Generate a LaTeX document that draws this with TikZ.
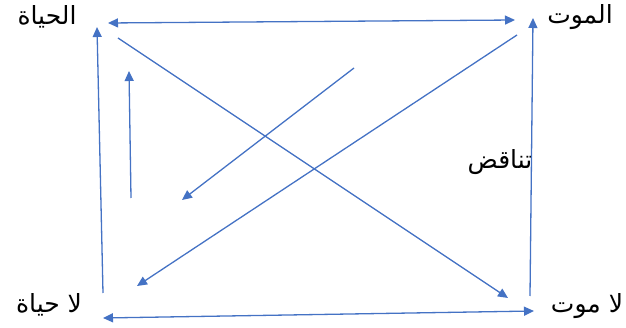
\documentclass[tikz,border=0pt]{standalone}
\usepackage{fontspec}
\newfontfamily\arabicfont[Script=Arabic]{DejaVu Sans}
\TeXXeTstate=1
\usetikzlibrary{arrows.meta}
\definecolor{linkblue}{RGB}{68,114,196}
\tikzset{>={Triangle[length=10pt,width=9pt]},link/.style={linkblue,line width=1.3pt},word/.style={font=\arabicfont\fontsize{25}{30}\selectfont,inner sep=0pt}}
\newcommand{\rtl}[1]{\beginR #1\endR}
\begin{document}
\begin{tikzpicture}[x=1pt,y=-1pt]
\useasboundingbox (0,0) rectangle (626,328);
% the four terms
\node[word] (hayat) at (47,17){\rtl{الحياة}};\node[word] (mawt) at (580,17){\rtl{الموت}};
\node[word] (lahayat) at (49,305){\rtl{لا حياة}};\node[word] (lamawt) at (587,306){\rtl{لا موت}};
\node[word] (tanaqud) at (500,162){\rtl{تناقض}};
% ends of the arrows
\coordinate (tA) at (108,23);\coordinate (tB) at (515,20);
\coordinate (bA) at (103,318);\coordinate (bB) at (534,311);
\coordinate (lA) at (103,293);\coordinate (lB) at (97,27);
\coordinate (rA) at (530,296);\coordinate (rB) at (533,18);
\coordinate (dA) at (118,38);\coordinate (dB) at (508,298);
\coordinate (eA) at (517,35);\coordinate (eB) at (137,286);
\coordinate (sA) at (131,198);\coordinate (sB) at (129,71);
\coordinate (fA) at (354,68);\coordinate (fB) at (182,200);
% arrows
\draw[link,<->] (tA)--(tB);\draw[link,<->] (bA)--(bB);
\draw[link,->] (lA)--(lB);\draw[link,->] (rA)--(rB);
\draw[link,->] (dA)--(dB);\draw[link,->] (eA)--(eB);
\draw[link,->] (sA)--(sB);\draw[link,->] (fA)--(fB);
\end{tikzpicture}
\end{document}
